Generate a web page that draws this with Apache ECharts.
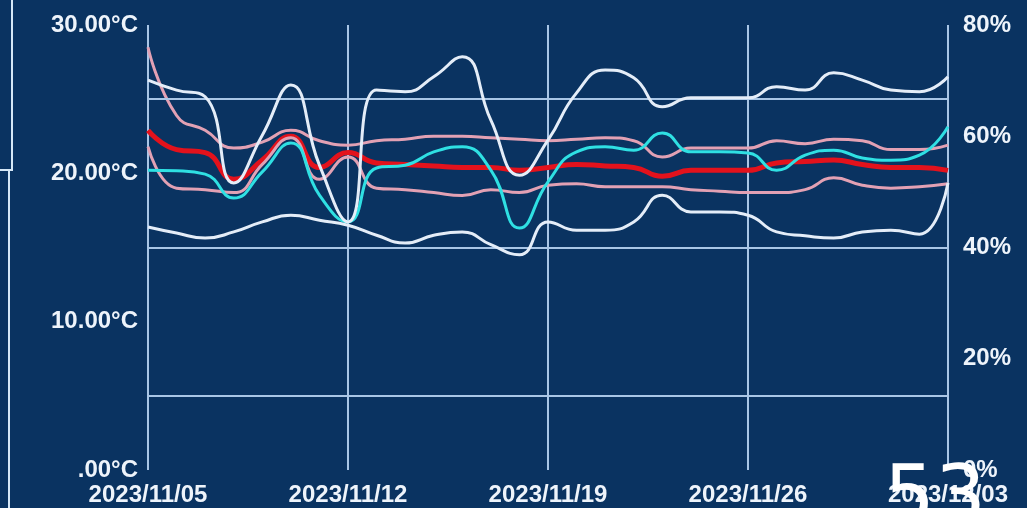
<!DOCTYPE html>
<html>
<head>
<meta charset="utf-8">
<script src="https://cdn.jsdelivr.net/npm/echarts@6/dist/echarts.min.js"></script>
<style>
html,body{margin:0;padding:0;background:#0a3361;}
#chart{width:1027px;height:508px;}
</style>
</head>
<body>
<div id="chart"></div>
<script>
const dates = ['2023/11/05','2023/11/06','2023/11/07','2023/11/08','2023/11/09','2023/11/10','2023/11/11',
  '2023/11/12','2023/11/13','2023/11/14','2023/11/15','2023/11/16','2023/11/17','2023/11/18',
  '2023/11/19','2023/11/20','2023/11/21','2023/11/22','2023/11/23','2023/11/24','2023/11/25',
  '2023/11/26','2023/11/27','2023/11/28','2023/11/29','2023/11/30','2023/12/01','2023/12/02','2023/12/03'];

const tempMax = [28.5,23.9,22.9,21.7,22.1,22.9,22.2,21.9,22.2,22.3,22.5,22.5,22.4,22.3,22.2,22.3,22.4,22.2,21.1,21.7,21.7,21.7,22.2,22.0,22.3,22.2,21.6,21.6,21.9];
const tempAvg = [22.9,21.6,21.4,19.6,20.9,22.5,20.4,21.4,20.7,20.6,20.5,20.4,20.4,20.2,20.4,20.6,20.5,20.4,19.8,20.2,20.2,20.2,20.7,20.8,20.9,20.6,20.4,20.4,20.2];
const tempMin = [21.8,19.0,18.9,18.7,20.6,22.4,19.6,21.1,19.0,18.9,18.7,18.5,18.9,18.7,19.2,19.3,19.1,19.1,19.1,18.9,18.8,18.7,18.7,18.9,19.7,19.2,19.0,19.1,19.3];

const humMax = [70.1,68.3,67.1,51.6,60.2,69.2,54.8,44.6,68.3,68.0,70.7,74.3,62.9,53.0,59.3,67.8,71.9,70.5,65.3,66.9,66.9,66.9,68.9,68.3,71.4,70.1,68.3,68.0,70.7];
const humAvg = [53.9,53.8,53.2,48.9,53.6,58.8,49.4,44.6,54.3,54.8,57.2,58.1,53.9,43.5,51.8,57.2,58.1,57.5,60.6,57.2,57.2,57.0,53.9,56.6,57.5,56.1,55.7,56.6,61.7];
const humMin = [43.7,42.6,41.7,42.8,44.6,45.8,44.9,44.0,42.2,40.8,42.2,42.8,40.5,38.7,44.6,43.1,43.1,44.6,49.4,46.4,46.4,45.8,42.8,42.1,41.7,42.8,43.1,42.4,51.6];

const leftTickLabels = ['.00°C','10.00°C','20.00°C','30.00°C'];
const rightTickLabels = ['0%','20%','40%','60%','80%'];
const guideLevels = [5, 15, 25];
const cornerNumber = '53';

const gridColor = '#a9c6e6';
const textColor = '#eef4fb';
const font = "'Liberation Sans', Arial, sans-serif";

const chart = echarts.init(document.getElementById('chart'));

function line(name, data, color, width, yIdx, z, extra) {
  return Object.assign({
    name: name, type: 'line', data: data, yAxisIndex: yIdx,
    smooth: 0.5, symbol: 'none', z: z,
    lineStyle: { color: color, width: width },
    itemStyle: { color: color }
  }, extra || {});
}

chart.setOption({
  backgroundColor: '#0a3361',
  animation: false,
  grid: { left: 148, right: 79, top: 25, bottom: 38, containLabel: false },
  xAxis: {
    type: 'category', data: dates, boundaryGap: false,
    axisLine: { show: false }, axisTick: { show: false, interval: 6 },
    axisLabel: { interval: 6, color: textColor, fontSize: 24, fontWeight: 'bold', fontFamily: font, margin: 13 },
    splitLine: { show: true, interval: 6, lineStyle: { color: gridColor, width: 2 } }
  },
  yAxis: [
    {
      type: 'value', min: 0, max: 30, interval: 10,
      axisLine: { show: false }, axisTick: { show: false },
      splitLine: { show: false },
      axisLabel: { color: textColor, fontSize: 24, fontWeight: 'bold', fontFamily: font, margin: 10,
        formatter: v => leftTickLabels[Math.round(v / 10)] }
    },
    {
      type: 'value', min: 0, max: 80, interval: 20, position: 'right',
      axisLine: { show: false }, axisTick: { show: false },
      splitLine: { show: false },
      axisLabel: { color: textColor, fontSize: 24, fontWeight: 'bold', fontFamily: font, margin: 15,
        formatter: v => rightTickLabels[Math.round(v / 20)] }
    }
  ],
  series: [
    line('平均温度', tempAvg, '#e3121c', 5, 0, 2, {
      markLine: {
        silent: true, symbol: ['none', 'none'], label: { show: false },
        lineStyle: { color: gridColor, width: 2, type: 'solid' },
        data: guideLevels.map(v => ({ yAxis: v }))
      }
    }),
    line('最高温度', tempMax, '#e2a1b4', 3, 0, 3),
    line('最低温度', tempMin, '#e2a1b4', 3, 0, 3),
    line('平均湿度', humAvg, '#2fe0e3', 3, 1, 4),
    line('最高湿度', humMax, '#e4edf8', 3, 1, 5),
    line('最低湿度', humMin, '#e4edf8', 3, 1, 5)
  ],
  graphic: [
    { type: 'polyline', shape: { points: [[12, 0], [12, 170], [0, 170]] }, style: { stroke: '#d6e8f7', lineWidth: 2, fill: null } },
    { type: 'line', shape: { x1: 9, y1: 170, x2: 9, y2: 508 }, style: { stroke: '#d6e8f7', lineWidth: 2 } },
    { type: 'text', left: 884, top: 461, z: 100,
      style: { text: cornerNumber, fill: '#ffffff', fontSize: 80, fontFamily: "'DejaVu Sans', sans-serif", fontWeight: 'normal' } }
  ]
});
</script>
</body>
</html>
